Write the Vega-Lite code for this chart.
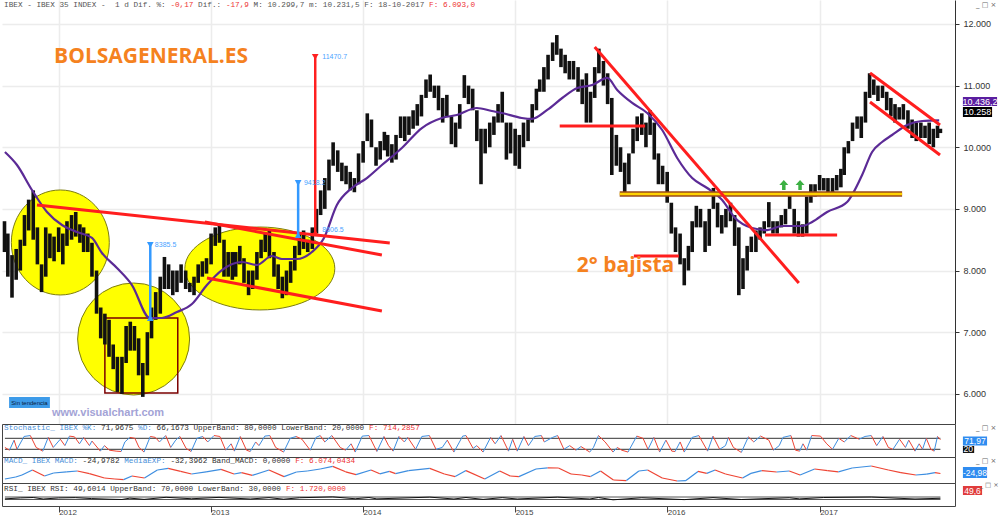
{
"$schema": "https://vega.github.io/schema/vega-lite/v6.json",
"padding": 0,
"spacing": 0,
"bounds": "flush",
"background": "white",
"config": {"view": {"stroke": null}, "point": {"opacity": 1}, "text": {"font": "Liberation Mono", "fontSize": 7.7, "align": "left", "baseline": "middle"}},
"resolve": {"scale": {"x": "independent"}, "axis": {"x": "independent"}},
"datasets": {
"px": [
{"d":"2011-08-24","p":8300,"p2":8800},{"d":"2011-09-01","p":7900,"p2":8600},{"d":"2011-09-11","p":7560,"p2":8250},{"d":"2011-09-21","p":7850,"p2":8350},
{"d":"2011-10-01","p":8000,"p2":8500},{"d":"2011-10-11","p":8400,"p2":8900},{"d":"2011-10-21","p":8650,"p2":9150},{"d":"2011-11-01","p":8500,"p2":9300},
{"d":"2011-11-11","p":8100,"p2":8700},{"d":"2011-11-21","p":7650,"p2":8100},{"d":"2011-12-01","p":7900,"p2":8700},{"d":"2011-12-11","p":8200,"p2":8600},
{"d":"2011-12-21","p":8150,"p2":8550},{"d":"2012-01-01","p":8300,"p2":8700},{"d":"2012-01-11","p":8100,"p2":8600},{"d":"2012-01-21","p":8400,"p2":8800},
{"d":"2012-02-01","p":8500,"p2":8900},{"d":"2012-02-11","p":8550,"p2":8950},{"d":"2012-02-21","p":8450,"p2":8750},{"d":"2012-03-01","p":8300,"p2":8700},
{"d":"2012-03-11","p":8300,"p2":8600},{"d":"2012-03-21","p":7900,"p2":8450},{"d":"2012-04-01","p":7300,"p2":8000},{"d":"2012-04-11","p":6900,"p2":7400},
{"d":"2012-04-21","p":6800,"p2":7300},{"d":"2012-05-01","p":6600,"p2":7200},{"d":"2012-05-11","p":6400,"p2":6800},{"d":"2012-05-21","p":6030,"p2":6600},
{"d":"2012-06-01","p":6000,"p2":6600},{"d":"2012-06-11","p":6500,"p2":7100},{"d":"2012-06-21","p":6700,"p2":7170},{"d":"2012-07-01","p":6700,"p2":7100},
{"d":"2012-07-11","p":6300,"p2":6900},{"d":"2012-07-21","p":5950,"p2":6500},{"d":"2012-08-01","p":6300,"p2":7000},{"d":"2012-08-11","p":6900,"p2":7400},
{"d":"2012-08-21","p":7200,"p2":7650},{"d":"2012-09-01","p":7300,"p2":7900},{"d":"2012-09-11","p":7700,"p2":8220},{"d":"2012-09-21","p":7700,"p2":8100},
{"d":"2012-10-01","p":7600,"p2":8000},{"d":"2012-10-11","p":7650,"p2":8000},{"d":"2012-10-21","p":7800,"p2":8100},{"d":"2012-11-01","p":7700,"p2":8000},
{"d":"2012-11-11","p":7650,"p2":7800},{"d":"2012-11-21","p":7600,"p2":7900},{"d":"2012-12-01","p":7800,"p2":8100},{"d":"2012-12-11","p":7900,"p2":8150},
{"d":"2012-12-21","p":7950,"p2":8200},{"d":"2013-01-01","p":8100,"p2":8600},{"d":"2013-01-11","p":8400,"p2":8700},{"d":"2013-01-21","p":8450,"p2":8750},
{"d":"2013-02-01","p":7900,"p2":8500},{"d":"2013-02-11","p":7900,"p2":8300},{"d":"2013-02-21","p":7850,"p2":8300},{"d":"2013-03-01","p":7900,"p2":8300},
{"d":"2013-03-11","p":8100,"p2":8400},{"d":"2013-03-21","p":7800,"p2":8200},{"d":"2013-04-01","p":7600,"p2":8000},{"d":"2013-04-11","p":7700,"p2":8000},
{"d":"2013-04-21","p":7850,"p2":8300},{"d":"2013-05-01","p":8200,"p2":8500},{"d":"2013-05-11","p":8300,"p2":8600},{"d":"2013-05-21","p":8200,"p2":8650},
{"d":"2013-06-01","p":7900,"p2":8300},{"d":"2013-06-11","p":7700,"p2":8100},{"d":"2013-06-21","p":7550,"p2":7900},{"d":"2013-07-01","p":7600,"p2":8000},
{"d":"2013-07-11","p":7800,"p2":8150},{"d":"2013-07-21","p":8000,"p2":8400},{"d":"2013-08-01","p":8250,"p2":8600},{"d":"2013-08-11","p":8350,"p2":8650},
{"d":"2013-08-21","p":8300,"p2":8500},{"d":"2013-09-01","p":8350,"p2":8700},{"d":"2013-09-11","p":8600,"p2":9000},{"d":"2013-09-21","p":8900,"p2":9300},
{"d":"2013-10-01","p":9000,"p2":9500},{"d":"2013-10-11","p":9300,"p2":9800},{"d":"2013-10-21","p":9700,"p2":10080},{"d":"2013-11-01","p":9600,"p2":9950},
{"d":"2013-11-11","p":9450,"p2":9750},{"d":"2013-11-21","p":9400,"p2":9700},{"d":"2013-12-01","p":9300,"p2":9600},{"d":"2013-12-11","p":9270,"p2":9500},
{"d":"2013-12-21","p":9400,"p2":9900},{"d":"2014-01-01","p":9750,"p2":10100},{"d":"2014-01-11","p":10100,"p2":10550},{"d":"2014-01-21","p":10000,"p2":10450},
{"d":"2014-02-01","p":9700,"p2":10000},{"d":"2014-02-11","p":9800,"p2":10100},{"d":"2014-02-21","p":9950,"p2":10250},{"d":"2014-03-01","p":9850,"p2":10200},
{"d":"2014-03-11","p":9750,"p2":10050},{"d":"2014-03-21","p":9800,"p2":10200},{"d":"2014-04-01","p":10150,"p2":10500},{"d":"2014-04-11","p":10100,"p2":10500},
{"d":"2014-04-21","p":10200,"p2":10500},{"d":"2014-05-01","p":10300,"p2":10600},{"d":"2014-05-11","p":10350,"p2":10700},{"d":"2014-05-21","p":10500,"p2":10850},
{"d":"2014-06-01","p":10800,"p2":11100},{"d":"2014-06-11","p":10900,"p2":11180},{"d":"2014-06-21","p":10800,"p2":11000},{"d":"2014-07-01","p":10600,"p2":11000},
{"d":"2014-07-11","p":10400,"p2":10800},{"d":"2014-07-21","p":10500,"p2":10850},{"d":"2014-08-01","p":10050,"p2":10500},{"d":"2014-08-11","p":10000,"p2":10400},
{"d":"2014-08-21","p":10300,"p2":10700},{"d":"2014-09-01","p":10800,"p2":11170},{"d":"2014-09-11","p":10700,"p2":11000},{"d":"2014-09-21","p":10600,"p2":10950},
{"d":"2014-10-01","p":10100,"p2":10600},{"d":"2014-10-11","p":9400,"p2":10300},{"d":"2014-10-21","p":9900,"p2":10300},{"d":"2014-11-01","p":10000,"p2":10400},
{"d":"2014-11-11","p":10200,"p2":10500},{"d":"2014-11-21","p":10400,"p2":10700},{"d":"2014-12-01","p":10400,"p2":10900},{"d":"2014-12-11","p":9800,"p2":10400},
{"d":"2014-12-21","p":9900,"p2":10400},{"d":"2015-01-01","p":9700,"p2":10300},{"d":"2015-01-11","p":9650,"p2":10200},{"d":"2015-01-21","p":10000,"p2":10400},
{"d":"2015-02-01","p":10100,"p2":10450},{"d":"2015-02-11","p":10400,"p2":10700},{"d":"2015-02-21","p":10600,"p2":10950},{"d":"2015-03-01","p":10900,"p2":11100},
{"d":"2015-03-11","p":10900,"p2":11300},{"d":"2015-03-21","p":11100,"p2":11500},{"d":"2015-04-01","p":11400,"p2":11700},{"d":"2015-04-11","p":11500,"p2":11820},
{"d":"2015-04-21","p":11300,"p2":11600},{"d":"2015-05-01","p":11200,"p2":11500},{"d":"2015-05-11","p":11100,"p2":11400},{"d":"2015-05-21","p":11100,"p2":11400},
{"d":"2015-06-01","p":10900,"p2":11300},{"d":"2015-06-11","p":10700,"p2":11100},{"d":"2015-06-21","p":10400,"p2":11200},{"d":"2015-07-01","p":10400,"p2":10900},
{"d":"2015-07-11","p":10800,"p2":11300},{"d":"2015-07-21","p":11200,"p2":11600},{"d":"2015-08-01","p":11000,"p2":11400},{"d":"2015-08-11","p":10700,"p2":11200},
{"d":"2015-08-21","p":9550,"p2":10800},{"d":"2015-09-01","p":9700,"p2":10200},{"d":"2015-09-11","p":9600,"p2":10000},{"d":"2015-09-21","p":9270,"p2":9750},
{"d":"2015-10-01","p":9400,"p2":9900},{"d":"2015-10-11","p":9900,"p2":10300},{"d":"2015-10-21","p":10100,"p2":10500},{"d":"2015-11-01","p":10200,"p2":10550},
{"d":"2015-11-11","p":10000,"p2":10400},{"d":"2015-11-21","p":10200,"p2":10600},{"d":"2015-12-01","p":9800,"p2":10400},{"d":"2015-12-11","p":9400,"p2":9900},
{"d":"2015-12-21","p":9400,"p2":9700},{"d":"2016-01-01","p":9100,"p2":9600},{"d":"2016-01-11","p":8600,"p2":9100},{"d":"2016-01-21","p":8300,"p2":8700},
{"d":"2016-02-01","p":8100,"p2":8600},{"d":"2016-02-11","p":7760,"p2":8200},{"d":"2016-02-21","p":8000,"p2":8400},{"d":"2016-03-01","p":8300,"p2":8800},
{"d":"2016-03-11","p":8700,"p2":9050},{"d":"2016-03-21","p":8700,"p2":9000},{"d":"2016-04-01","p":8300,"p2":8800},{"d":"2016-04-11","p":8400,"p2":9000},
{"d":"2016-04-21","p":9000,"p2":9340},{"d":"2016-05-01","p":8700,"p2":9100},{"d":"2016-05-11","p":8600,"p2":8900},{"d":"2016-05-21","p":8700,"p2":9000},
{"d":"2016-06-01","p":8800,"p2":9100},{"d":"2016-06-11","p":8400,"p2":8900},{"d":"2016-06-21","p":7600,"p2":8700},{"d":"2016-07-01","p":7700,"p2":8200},
{"d":"2016-07-11","p":8000,"p2":8400},{"d":"2016-07-21","p":8300,"p2":8550},{"d":"2016-08-01","p":8300,"p2":8650},{"d":"2016-08-11","p":8500,"p2":8700},
{"d":"2016-08-21","p":8600,"p2":8800},{"d":"2016-09-01","p":8700,"p2":9110},{"d":"2016-09-11","p":8600,"p2":8800},{"d":"2016-09-21","p":8600,"p2":8800},
{"d":"2016-10-01","p":8700,"p2":8900},{"d":"2016-10-11","p":8750,"p2":9000},{"d":"2016-10-21","p":9000,"p2":9225},{"d":"2016-11-01","p":8600,"p2":9000},
{"d":"2016-11-11","p":8550,"p2":8800},{"d":"2016-11-21","p":8550,"p2":8750},{"d":"2016-12-01","p":8600,"p2":9200},{"d":"2016-12-11","p":9100,"p2":9400},
{"d":"2016-12-21","p":9200,"p2":9400},{"d":"2017-01-01","p":9300,"p2":9550},{"d":"2017-01-11","p":9300,"p2":9500},{"d":"2017-01-21","p":9250,"p2":9500},
{"d":"2017-02-01","p":9250,"p2":9500},{"d":"2017-02-11","p":9300,"p2":9550},{"d":"2017-02-21","p":9350,"p2":9650},{"d":"2017-03-01","p":9550,"p2":10000},
{"d":"2017-03-11","p":9900,"p2":10100},{"d":"2017-03-21","p":10100,"p2":10400},{"d":"2017-04-01","p":10300,"p2":10500},{"d":"2017-04-11","p":10150,"p2":10500},
{"d":"2017-04-21","p":10400,"p2":10900},{"d":"2017-05-01","p":10800,"p2":11200},{"d":"2017-05-11","p":10850,"p2":11100},{"d":"2017-05-21","p":10750,"p2":11000},
{"d":"2017-06-01","p":10800,"p2":11000},{"d":"2017-06-11","p":10600,"p2":10900},{"d":"2017-06-21","p":10500,"p2":10800},{"d":"2017-07-01","p":10400,"p2":10700},
{"d":"2017-07-11","p":10450,"p2":10650},{"d":"2017-07-21","p":10450,"p2":10700},{"d":"2017-08-01","p":10300,"p2":10600},{"d":"2017-08-11","p":10150,"p2":10450},
{"d":"2017-08-21","p":10100,"p2":10400},{"d":"2017-09-01","p":10150,"p2":10400},{"d":"2017-09-11","p":10150,"p2":10350},{"d":"2017-09-21","p":10050,"p2":10400},
{"d":"2017-10-01","p":10000,"p2":10300},{"d":"2017-10-11","p":10150,"p2":10350},{"d":"2017-10-18","p":10230,"p2":10300}
],
"ma": [
{"d":"2011-08-25","p":9923},{"d":"2011-09-23","p":9712},{"d":"2011-10-29","p":9306},{"d":"2011-12-04","p":8950},{"d":"2012-01-09","p":8739},
{"d":"2012-02-14","p":8625},{"d":"2012-03-21","p":8528},{"d":"2012-04-14","p":8284},{"d":"2012-05-20","p":8041},{"d":"2012-06-25","p":7765},
{"d":"2012-08-07","p":7230},{"d":"2012-09-05","p":7230},{"d":"2012-10-11","p":7327},{"d":"2012-11-16","p":7457},{"d":"2012-12-22","p":7765},
{"d":"2013-01-27","p":8008},{"d":"2013-03-16","p":8138},{"d":"2013-04-21","p":8090},{"d":"2013-05-27","p":8236},{"d":"2013-06-20","p":8187},
{"d":"2013-07-26","p":8187},{"d":"2013-08-31","p":8300},{"d":"2013-09-29","p":8528},{"d":"2013-10-30","p":9063},{"d":"2013-12-05","p":9339},
{"d":"2014-01-10","p":9501},{"d":"2014-02-15","p":9712},{"d":"2014-04-04","p":9988},{"d":"2014-05-22","p":10312},{"d":"2014-07-09","p":10475},
{"d":"2014-08-14","p":10523},{"d":"2014-10-01","p":10637},{"d":"2014-11-06","p":10588},{"d":"2014-11-30","p":10556},{"d":"2015-01-17","p":10475},
{"d":"2015-02-10","p":10459},{"d":"2015-03-19","p":10605},{"d":"2015-04-24","p":10799},{"d":"2015-05-30","p":10962},{"d":"2015-07-05","p":11010},
{"d":"2015-08-10","p":11124},{"d":"2015-09-03","p":10929},{"d":"2015-10-09","p":10718},{"d":"2015-11-14","p":10556},{"d":"2015-12-20","p":10280},
{"d":"2016-01-25","p":9826},{"d":"2016-03-01","p":9501},{"d":"2016-04-06","p":9339},{"d":"2016-05-12","p":9144},{"d":"2016-06-12","p":8852},
{"d":"2016-07-23","p":8690},{"d":"2016-08-28","p":8657},{"d":"2016-10-03","p":8722},{"d":"2016-11-20","p":8722},{"d":"2016-12-14","p":8787},
{"d":"2017-01-19","p":8950},{"d":"2017-03-08","p":9112},{"d":"2017-04-13","p":9550},{"d":"2017-05-07","p":9923},{"d":"2017-05-31","p":10085},
{"d":"2017-06-24","p":10199},{"d":"2017-07-30","p":10361},{"d":"2017-09-04","p":10426},{"d":"2017-10-15","p":10436}
],
"st": [
{"d":"2011-08-25","v":30},{"d":"2011-09-05","v":15},{"d":"2011-09-16","v":70},{"d":"2011-09-23","v":20},{"d":"2011-10-10","v":90},{"d":"2011-10-25","v":95},
{"d":"2011-11-08","v":30},{"d":"2011-11-24","v":10},{"d":"2011-12-07","v":85},{"d":"2011-12-19","v":30},{"d":"2012-01-05","v":75},{"d":"2012-01-16","v":40},
{"d":"2012-01-27","v":92},{"d":"2012-02-08","v":88},{"d":"2012-02-20","v":50},{"d":"2012-03-01","v":85},{"d":"2012-03-15","v":40},{"d":"2012-03-21","v":65},
{"d":"2012-04-10","v":10},{"d":"2012-04-20","v":40},{"d":"2012-05-02","v":15},{"d":"2012-05-18","v":10},{"d":"2012-05-30","v":8},{"d":"2012-06-08","v":60},
{"d":"2012-06-20","v":85},{"d":"2012-07-02","v":80},{"d":"2012-07-12","v":30},{"d":"2012-07-24","v":5},{"d":"2012-08-08","v":90},{"d":"2012-08-20","v":85},
{"d":"2012-08-30","v":60},{"d":"2012-09-14","v":95},{"d":"2012-09-26","v":30},{"d":"2012-10-08","v":70},{"d":"2012-10-18","v":90},{"d":"2012-11-02","v":25},
{"d":"2012-11-14","v":8},{"d":"2012-11-28","v":80},{"d":"2012-12-12","v":90},{"d":"2012-12-24","v":60},{"d":"2013-01-08","v":95},{"d":"2013-01-22","v":90},
{"d":"2013-02-05","v":15},{"d":"2013-02-18","v":50},{"d":"2013-02-26","v":10},{"d":"2013-03-12","v":90},{"d":"2013-03-27","v":15},{"d":"2013-04-05","v":8},
{"d":"2013-04-18","v":60},{"d":"2013-04-26","v":40},{"d":"2013-05-10","v":92},{"d":"2013-05-22","v":95},{"d":"2013-06-05","v":30},{"d":"2013-06-24","v":5},
{"d":"2013-07-10","v":80},{"d":"2013-07-24","v":90},{"d":"2013-08-07","v":75},{"d":"2013-08-27","v":15},{"d":"2013-09-10","v":85},{"d":"2013-09-20","v":95},
{"d":"2013-10-01","v":60},{"d":"2013-10-18","v":95},{"d":"2013-11-07","v":30},{"d":"2013-11-20","v":15},{"d":"2013-12-03","v":50},{"d":"2013-12-13","v":5},
{"d":"2013-12-30","v":92},{"d":"2014-01-15","v":95},{"d":"2014-02-03","v":8},{"d":"2014-02-20","v":90},{"d":"2014-03-03","v":40},{"d":"2014-03-14","v":10},
{"d":"2014-03-28","v":90},{"d":"2014-04-10","v":60},{"d":"2014-04-18","v":85},{"d":"2014-05-07","v":20},{"d":"2014-05-22","v":90},{"d":"2014-06-09","v":95},
{"d":"2014-06-25","v":20},{"d":"2014-07-10","v":30},{"d":"2014-07-22","v":70},{"d":"2014-08-07","v":5},{"d":"2014-08-28","v":92},{"d":"2014-09-05","v":95},
{"d":"2014-09-22","v":25},{"d":"2014-10-01","v":40},{"d":"2014-10-16","v":5},{"d":"2014-11-03","v":85},{"d":"2014-11-14","v":50},{"d":"2014-11-28","v":95},
{"d":"2014-12-16","v":10},{"d":"2014-12-26","v":75},{"d":"2015-01-06","v":10},{"d":"2015-01-22","v":90},{"d":"2015-02-02","v":40},{"d":"2015-02-17","v":90},
{"d":"2015-03-05","v":95},{"d":"2015-03-12","v":60},{"d":"2015-04-01","v":85},{"d":"2015-04-13","v":95},{"d":"2015-04-28","v":20},{"d":"2015-05-12","v":40},
{"d":"2015-05-27","v":15},{"d":"2015-06-08","v":35},{"d":"2015-06-29","v":5},{"d":"2015-07-08","v":30},{"d":"2015-07-20","v":95},{"d":"2015-08-05","v":60},
{"d":"2015-08-24","v":5},{"d":"2015-09-03","v":30},{"d":"2015-09-14","v":15},{"d":"2015-09-29","v":5},{"d":"2015-10-20","v":92},{"d":"2015-11-04","v":80},
{"d":"2015-11-16","v":20},{"d":"2015-11-30","v":85},{"d":"2015-12-14","v":5},{"d":"2015-12-29","v":70},{"d":"2016-01-12","v":10},{"d":"2016-01-20","v":8},
{"d":"2016-02-01","v":60},{"d":"2016-02-11","v":5},{"d":"2016-03-01","v":85},{"d":"2016-03-17","v":95},{"d":"2016-04-07","v":10},{"d":"2016-04-20","v":92},
{"d":"2016-05-06","v":20},{"d":"2016-05-20","v":40},{"d":"2016-05-27","v":85},{"d":"2016-06-08","v":30},{"d":"2016-06-27","v":3},{"d":"2016-07-14","v":88},
{"d":"2016-07-27","v":60},{"d":"2016-08-12","v":92},{"d":"2016-09-01","v":70},{"d":"2016-09-12","v":15},{"d":"2016-09-26","v":40},{"d":"2016-10-05","v":85},
{"d":"2016-10-24","v":95},{"d":"2016-11-04","v":15},{"d":"2016-11-14","v":10},{"d":"2016-11-22","v":50},{"d":"2016-12-01","v":15},{"d":"2016-12-13","v":95},
{"d":"2017-01-03","v":92},{"d":"2017-01-18","v":50},{"d":"2017-02-01","v":20},{"d":"2017-02-16","v":80},{"d":"2017-03-01","v":60},{"d":"2017-03-17","v":95},
{"d":"2017-04-06","v":75},{"d":"2017-04-20","v":90},{"d":"2017-05-05","v":95},{"d":"2017-05-18","v":40},{"d":"2017-06-02","v":90},{"d":"2017-06-15","v":30},
{"d":"2017-06-26","v":20},{"d":"2017-07-12","v":75},{"d":"2017-07-26","v":30},{"d":"2017-08-03","v":70},{"d":"2017-08-18","v":10},{"d":"2017-08-28","v":50},
{"d":"2017-09-05","v":20},{"d":"2017-09-14","v":80},{"d":"2017-09-25","v":20},{"d":"2017-10-03","v":10},{"d":"2017-10-11","v":90},{"d":"2017-10-18","v":72}
],
"mc": [
{"d":"2011-08-25","v":-300},{"d":"2011-09-20","v":-200},{"d":"2011-10-05","v":-100},{"d":"2011-10-30","v":150},{"d":"2011-11-28","v":-150},{"d":"2011-12-20","v":0},
{"d":"2012-01-20","v":60},{"d":"2012-02-15","v":100},{"d":"2012-03-15","v":-30},{"d":"2012-04-20","v":-250},{"d":"2012-05-15","v":-300},{"d":"2012-06-05","v":-330},
{"d":"2012-06-25","v":-150},{"d":"2012-07-25","v":-250},{"d":"2012-08-25","v":150},{"d":"2012-09-20","v":230},{"d":"2012-10-20","v":80},{"d":"2012-11-15","v":-50},
{"d":"2012-12-20","v":60},{"d":"2013-01-25","v":180},{"d":"2013-02-25","v":-50},{"d":"2013-03-15","v":20},{"d":"2013-04-10","v":-120},{"d":"2013-05-20","v":150},
{"d":"2013-06-25","v":-180},{"d":"2013-07-25","v":50},{"d":"2013-08-20","v":100},{"d":"2013-09-20","v":200},{"d":"2013-10-20","v":330},{"d":"2013-11-20","v":60},
{"d":"2013-12-15","v":-80},{"d":"2014-01-20","v":150},{"d":"2014-02-10","v":-40},{"d":"2014-03-05","v":80},{"d":"2014-03-20","v":-30},{"d":"2014-04-20","v":120},
{"d":"2014-06-10","v":230},{"d":"2014-07-15","v":-50},{"d":"2014-08-10","v":-180},{"d":"2014-09-05","v":120},{"d":"2014-10-20","v":-300},{"d":"2014-11-25","v":100},
{"d":"2014-12-20","v":-150},{"d":"2015-01-10","v":-180},{"d":"2015-02-20","v":200},{"d":"2015-03-20","v":260},{"d":"2015-04-15","v":250},{"d":"2015-05-15","v":-50},
{"d":"2015-06-10","v":-100},{"d":"2015-07-01","v":-180},{"d":"2015-07-25","v":100},{"d":"2015-08-25","v":-350},{"d":"2015-09-25","v":-380},{"d":"2015-10-25","v":100},
{"d":"2015-11-15","v":150},{"d":"2015-12-20","v":-250},{"d":"2016-01-25","v":-400},{"d":"2016-02-15","v":-380},{"d":"2016-03-15","v":80},{"d":"2016-04-05","v":-20},
{"d":"2016-04-25","v":150},{"d":"2016-05-20","v":-50},{"d":"2016-06-30","v":-250},{"d":"2016-07-20","v":-20},{"d":"2016-08-15","v":120},{"d":"2016-09-20","v":50},
{"d":"2016-10-20","v":100},{"d":"2016-11-15","v":-100},{"d":"2016-12-20","v":200},{"d":"2017-01-20","v":120},{"d":"2017-02-15","v":60},{"d":"2017-03-20","v":250},
{"d":"2017-05-05","v":350},{"d":"2017-06-15","v":150},{"d":"2017-07-15","v":20},{"d":"2017-08-20","v":-100},{"d":"2017-09-15","v":-60},{"d":"2017-10-05","v":20},
{"d":"2017-10-18","v":-25}
],
"rs": [
{"d":"2011-08-25","v":40},{"d":"2011-10-01","v":55},{"d":"2011-11-01","v":62},{"d":"2011-11-25","v":38},{"d":"2012-01-01","v":55},{"d":"2012-02-10","v":60},
{"d":"2012-03-20","v":45},{"d":"2012-05-01","v":35},{"d":"2012-06-01","v":30},{"d":"2012-06-20","v":52},{"d":"2012-07-24","v":32},{"d":"2012-09-15","v":65},
{"d":"2012-11-15","v":42},{"d":"2013-01-20","v":64},{"d":"2013-04-05","v":38},{"d":"2013-05-20","v":60},{"d":"2013-06-24","v":35},{"d":"2013-08-01","v":58},
{"d":"2013-10-20","v":72},{"d":"2013-12-13","v":42},{"d":"2014-01-15","v":62},{"d":"2014-02-03","v":40},{"d":"2014-06-10","v":68},{"d":"2014-08-07","v":38},
{"d":"2014-09-05","v":62},{"d":"2014-10-16","v":32},{"d":"2014-12-01","v":60},{"d":"2015-01-06","v":38},{"d":"2015-04-13","v":68},{"d":"2015-06-29","v":38},
{"d":"2015-07-20","v":62},{"d":"2015-08-24","v":25},{"d":"2015-11-01","v":58},{"d":"2016-02-11","v":28},{"d":"2016-04-20","v":60},{"d":"2016-06-27","v":30},
{"d":"2016-10-20","v":58},{"d":"2016-11-14","v":40},{"d":"2017-01-10","v":62},{"d":"2017-05-05","v":70},{"d":"2017-08-18","v":38},{"d":"2017-10-18","v":49.6}
]
},
"vconcat": [
{
"width": 953, "height": 424,
"encoding": {
 "x": {"field": "d", "type": "temporal", "scale": {"domain": [{"year": 2011, "month": 8, "date": 18, "utc": true}, {"year": 2017, "month": 11, "date": 22, "utc": true}]}, "axis": {"grid": true, "gridColor": "#ececec", "gridWidth": 1.5, "labels": false, "ticks": false, "domain": false, "title": null, "tickCount": {"interval": "year", "step": 1}}},
 "y": {"field": "p", "type": "quantitative", "scale": {"domain": [5510, 12389], "nice": false, "zero": false}, "axis": {"orient": "right", "values": [6000, 7000, 8000, 9000, 10000, 11000, 12000], "labelExpr": "replace(format(datum.value, ','), ',', '.')", "grid": true, "gridColor": "#ececec", "gridWidth": 1.5, "title": null, "tickSize": 4, "labelPadding": 4, "labelFont": "Liberation Sans", "labelFontSize": 9, "labelColor": "#333", "domainColor": "#333", "tickColor": "#333"}}
},
"layer": [
 {"data": {"values": [{"d": "2012-01-05", "p": 8455}]}, "mark": {"type": "point", "shape": "M -0.933 0 C -0.933 -0.552 -0.515 -1 0 -1 C 0.515 -1 0.933 -0.552 0.933 0 C 0.933 0.552 0.515 1 0 1 C -0.515 1 -0.933 0.552 -0.933 0 Z", "size": 11025, "filled": true, "fill": "#ffff00", "stroke": "#7d7d10", "strokeWidth": 1, "opacity": 1}},
 {"data": {"values": [{"d": "2012-06-29", "p": 6889}]}, "mark": {"type": "point", "shape": "circle", "size": 12544, "filled": true, "fill": "#ffff00", "stroke": "#7d7d10", "strokeWidth": 1, "opacity": 1}},
 {"data": {"values": [{"d": "2013-04-28", "p": 8033}]}, "mark": {"type": "point", "shape": "M -1 0 C -1 -0.305 -0.552 -0.553 0 -0.553 C 0.552 -0.553 1 -0.305 1 0 C 1 0.305 0.552 0.553 0 0.553 C -0.552 0.553 -1 0.305 -1 0 Z", "size": 22500, "filled": true, "fill": "#ffff00", "stroke": "#7d7d10", "strokeWidth": 1, "opacity": 1}},
 {"data": {"values": [{"d": "2012-04-21", "d2": "2012-10-13", "p": 6013, "p2": 7230}]}, "mark": {"type": "rect", "fillOpacity": 0, "stroke": "#7b0000", "strokeWidth": 1.5}, "encoding": {"x2": {"field": "d2"}, "y2": {"field": "p2"}}},
 {"data": {"name": "px"}, "mark": {"type": "rule", "color": "#111111", "strokeWidth": 3.6}, "encoding": {"y2": {"field": "p2"}}},
 {"data": {"name": "ma"}, "mark": {"type": "line", "color": "#5b2a96", "strokeWidth": 2.2, "interpolate": "monotone"}},
 {"data": {"values": [{"d": "2015-09-09", "d2": "2017-07-18", "p": 9242}]}, "mark": {"type": "rule", "color": "#9a4a1a", "strokeWidth": 5.5}, "encoding": {"x2": {"field": "d2"}}},
 {"data": {"values": [{"d": "2015-09-09", "d2": "2017-07-18", "p": 9242}]}, "mark": {"type": "rule", "color": "#ffd200", "strokeWidth": 2.5}, "encoding": {"x2": {"field": "d2"}}},
 {"data": {"values": [
   {"d": "2011-11-10", "p": 9063, "d2": "2014-03-06", "p2": 8447},
   {"d": "2012-12-17", "p": 8787, "d2": "2014-02-15", "p2": 8252},
   {"d": "2012-12-22", "p": 7879, "d2": "2014-02-15", "p2": 7343},
   {"d": "2015-07-11", "p": 11627, "d2": "2016-11-12", "p2": 7797},
   {"d": "2015-04-18", "p": 10345, "d2": "2015-11-09", "p2": 10345},
   {"d": "2015-10-13", "p": 8236, "d2": "2016-01-29", "p2": 8236},
   {"d": "2016-08-23", "p": 8576, "d2": "2017-02-12", "p2": 8576},
   {"d": "2017-05-02", "p": 11205, "d2": "2017-10-17", "p2": 10361},
   {"d": "2017-05-02", "p": 10734, "d2": "2017-10-17", "p2": 9874}
  ]}, "mark": {"type": "rule", "color": "#ff1e1e", "strokeWidth": 3}, "encoding": {"x2": {"field": "d2"}, "y2": {"field": "p2"}}},
 {"data": {"values": [{"d": "2012-08-08", "p": 7230, "p2": 8414}, {"d": "2013-07-29", "p": 8576, "p2": 9420}]}, "mark": {"type": "rule", "color": "#3399ff", "strokeWidth": 2.5}, "encoding": {"y2": {"field": "p2"}}},
 {"data": {"values": [{"d": "2013-09-08", "p": 8609, "p2": 11465}]}, "mark": {"type": "rule", "color": "#ff2020", "strokeWidth": 2.5}, "encoding": {"y2": {"field": "p2"}}},
 {"data": {"values": [{"d": "2012-08-08", "p": 8414}, {"d": "2013-07-29", "p": 9420}]}, "mark": {"type": "point", "shape": "triangle-down", "size": 45, "filled": true, "color": "#3399ff", "opacity": 1}},
 {"data": {"values": [{"d": "2012-08-08", "p": 7230}, {"d": "2013-07-29", "p": 8576}]}, "mark": {"type": "point", "shape": "triangle-up", "size": 45, "filled": true, "color": "#3399ff", "opacity": 1}},
 {"data": {"values": [{"d": "2013-09-08", "p": 11465}]}, "mark": {"type": "point", "shape": "triangle-down", "size": 45, "filled": true, "color": "#ff2020", "opacity": 1}},
 {"data": {"values": [{"d": "2013-09-08", "p": 8609}]}, "mark": {"type": "point", "shape": "triangle-up", "size": 60, "filled": true, "color": "#ff2020", "opacity": 1}},
 {"data": {"values": [{"d": "2012-08-19", "p": 8414, "t": "8385.5"}, {"d": "2013-08-12", "p": 9420, "t": "9418.2"}, {"d": "2013-09-25", "p": 11465, "t": "11470.7"}, {"d": "2013-09-25", "p": 8660, "t": "8606.5"}]}, "mark": {"type": "text", "align": "left", "baseline": "middle", "font": "Liberation Sans", "fontSize": 7, "color": "#4aa3ff"}, "encoding": {"text": {"field": "t"}}},
 {"data": {"values": [{"d": "2016-10-07", "p": 9388}, {"d": "2016-11-15", "p": 9388}]}, "mark": {"type": "point", "shape": "M -0.35 1 L 0.35 1 L 0.35 0 L 0.9 0 L 0 -1 L -0.9 0 L -0.35 0 Z", "size": 100, "filled": true, "color": "#3cb043", "opacity": 1}},
 {"data": {"values": [{"d": "2011-12-21", "p": 11465, "t": "BOLSAGENERAL.ES"}, {"d": "2015-05-29", "p": 8073, "t": "2° bajista"}]}, "mark": {"type": "text", "align": "left", "baseline": "middle", "font": "Open Sans", "fontWeight": "bold", "fontSize": 21, "color": "#f5821f"}, "encoding": {"text": {"field": "t"}}},
 {"data": {"values": [{"d": "2011-12-16", "p": 5688, "t": "www.visualchart.com"}]}, "mark": {"type": "text", "align": "left", "baseline": "middle", "font": "Liberation Sans", "fontWeight": "bold", "fontSize": 11, "color": "#a3a3d6"}, "encoding": {"text": {"field": "t"}}},
 {"data": {"values": [{"d": "2011-09-04", "d2": "2011-12-11", "p": 5769, "p2": 5948}]}, "mark": {"type": "rect", "color": "#3d9be9"}, "encoding": {"x2": {"field": "d2"}, "y2": {"field": "p2"}}},
 {"data": {"values": [{"d": "2011-10-23", "p": 5858, "t": "Sin tendencia"}]}, "mark": {"type": "text", "align": "center", "baseline": "middle", "font": "Liberation Sans", "fontSize": 6, "color": "#0a1a3a"}, "encoding": {"text": {"field": "t"}}},
 {"data": {"values": [{"d": "2017-12-11", "d2": "2018-03-03", "p": 10669, "p2": 10815}]}, "mark": {"type": "rect", "color": "#5b1fa0"}, "encoding": {"x2": {"field": "d2"}, "y2": {"field": "p2"}}},
 {"data": {"values": [{"d": "2017-12-11", "d2": "2018-02-19", "p": 10491, "p2": 10653}]}, "mark": {"type": "rect", "color": "#000000"}, "encoding": {"x2": {"field": "d2"}, "y2": {"field": "p2"}}},
 {"data": {"values": [{"d": "2018-01-21", "p": 10742, "t": "10.436,2"}, {"d": "2018-01-15", "p": 10572, "t": "10.258"}]}, "mark": {"type": "text", "align": "center", "baseline": "middle", "font": "Liberation Sans", "fontSize": 9, "color": "#ffffff"}, "encoding": {"text": {"field": "t"}}},
 {"data": {"values": [{"d": "2011-08-23", "p": 12308}]}, "layer": [
   {"mark": {"type": "text", "text": "IBEX - IBEX 35 INDEX -", "dx": 0, "color": "#555555"}},
   {"mark": {"type": "text", "text": "1 d Dif. %:", "dx": 110.9, "color": "#555555"}},
   {"mark": {"type": "text", "text": "-0,17", "dx": 166.3, "color": "#ee3333"}},
   {"mark": {"type": "text", "text": "Dif.:", "dx": 194.0, "color": "#555555"}},
   {"mark": {"type": "text", "text": "-17,9", "dx": 221.8, "color": "#ee3333"}},
   {"mark": {"type": "text", "text": "M: 10.299,7 m: 10.231,5 F: 18-10-2017", "dx": 249.5, "color": "#555555"}},
   {"mark": {"type": "text", "text": "F: 6.093,0", "dx": 425.0, "color": "#ee3333"}}
 ]},
 {"data": {"values": [{"d": "2018-02-05", "p": 12308, "t": "_ □ ×"}]}, "mark": {"type": "text", "align": "center", "baseline": "middle", "font": "DejaVu Sans", "fontSize": 7, "color": "#666666"}, "encoding": {"text": {"field": "t"}}}
]
},
{
"width": 953, "height": 33,
"view": {"stroke": "#444444"},
"encoding": {
 "x": {"field": "d", "type": "temporal", "scale": {"domain": [{"year": 2011, "month": 8, "date": 18, "utc": true}, {"year": 2017, "month": 11, "date": 22, "utc": true}]}, "axis": null},
 "y": {"field": "v", "type": "quantitative", "scale": {"domain": [-22, 158], "nice": false, "zero": false}, "axis": null}
},
"layer": [
 {"data": {"values": [{"d": "2011-08-25", "d2": "2017-10-18", "v": 80}, {"d": "2011-08-25", "d2": "2017-10-18", "v": 20}]}, "mark": {"type": "rule", "color": "#333333", "strokeWidth": 1}, "encoding": {"x2": {"field": "d2"}}},
 {"data": {"name": "st", "format": {"parse": {"d": "date"}}}, "transform": [{"window": [{"op": "lead", "field": "v", "as": "v2"}, {"op": "lead", "field": "d", "as": "d2"}], "sort": [{"field": "d", "order": "ascending"}]}, {"filter": "isValid(datum.v2)"}], "mark": {"type": "rule", "strokeWidth": 1}, "encoding": {"x2": {"field": "d2"}, "y2": {"field": "v2"}, "color": {"condition": {"test": "datum.v2 >= datum.v", "value": "#3d8ee0"}, "value": "#ee4433"}}},
 {"data": {"values": [{"d": "2011-08-23", "v": 136}]}, "layer": [
   {"mark": {"type": "text", "text": "Stochastic_ IBEX %K:", "dx": 0, "color": "#4a8fd8"}},
   {"mark": {"type": "text", "text": "71,9675", "dx": 97.0, "color": "#333333"}},
   {"mark": {"type": "text", "text": "%D:", "dx": 134.0, "color": "#4a8fd8"}},
   {"mark": {"type": "text", "text": "66,1673 UpperBand: 80,0000 LowerBand: 20,0000", "dx": 152.5, "color": "#333333"}},
   {"mark": {"type": "text", "text": "F: 714,2857", "dx": 365.0, "color": "#ee3333"}}
 ]},
 {"data": {"values": [{"d": "2017-12-11", "d2": "2018-02-07", "v": 40.7, "v2": 89.8}]}, "mark": {"type": "rect", "color": "#2f8cf0"}, "encoding": {"x2": {"field": "d2"}, "y2": {"field": "v2"}}},
 {"data": {"values": [{"d": "2017-12-11", "d2": "2018-01-07", "v": 0, "v2": 38}]}, "mark": {"type": "rect", "color": "#111111"}, "encoding": {"x2": {"field": "d2"}, "y2": {"field": "v2"}}},
 {"data": {"values": [{"d": "2018-01-09", "v": 65, "t": "71,97"}, {"d": "2017-12-24", "v": 19, "t": "20"}]}, "mark": {"type": "text", "align": "center", "baseline": "middle", "font": "Liberation Sans", "fontSize": 8.5, "color": "#ffffff"}, "encoding": {"text": {"field": "t"}}},
 {"data": {"values": [{"d": "2018-02-05", "v": 136, "t": "_ □ ×"}]}, "mark": {"type": "text", "align": "center", "baseline": "middle", "font": "DejaVu Sans", "fontSize": 7, "color": "#666666"}, "encoding": {"text": {"field": "t"}}}
]
},
{
"width": 953, "height": 26,
"view": {"stroke": "#444444"},
"encoding": {
 "x": {"field": "d", "type": "temporal", "scale": {"domain": [{"year": 2011, "month": 8, "date": 18, "utc": true}, {"year": 2017, "month": 11, "date": 22, "utc": true}]}, "axis": null},
 "y": {"field": "v", "type": "quantitative", "scale": {"domain": [-500, 800], "nice": false, "zero": false}, "axis": null}
},
"layer": [
 {"data": {"name": "mc", "format": {"parse": {"d": "date"}}}, "transform": [{"window": [{"op": "lead", "field": "v", "as": "v2"}, {"op": "lead", "field": "d", "as": "d2"}], "sort": [{"field": "d", "order": "ascending"}]}, {"filter": "isValid(datum.v2)"}], "mark": {"type": "rule", "strokeWidth": 1.2}, "encoding": {"x2": {"field": "d2"}, "y2": {"field": "v2"}, "color": {"condition": {"test": "datum.v2 >= datum.v", "value": "#3d8ee0"}, "value": "#ee4433"}}},
 {"data": {"values": [{"d": "2011-08-23", "v": 580}]}, "layer": [
   {"mark": {"type": "text", "text": "MACD_ IBEX MACD:", "dx": 0, "color": "#4a8fd8"}},
   {"mark": {"type": "text", "text": "-24,9782", "dx": 78.5, "color": "#333333"}},
   {"mark": {"type": "text", "text": "MediaEXP:", "dx": 120.1, "color": "#4a8fd8"}},
   {"mark": {"type": "text", "text": "-32,3962 Band_MACD: 0,0000", "dx": 166.3, "color": "#333333"}},
   {"mark": {"type": "text", "text": "F: 6.074,0434", "dx": 291.1, "color": "#ee3333"}}
 ]},
 {"data": {"values": [{"d": "2017-12-11", "d2": "2018-02-07", "v": -250, "v2": 300}]}, "mark": {"type": "rect", "color": "#2f8cf0"}, "encoding": {"x2": {"field": "d2"}, "y2": {"field": "v2"}}},
 {"data": {"values": [{"d": "2018-01-09", "v": 25, "t": "-24,98"}]}, "mark": {"type": "text", "align": "center", "baseline": "middle", "font": "Liberation Sans", "fontSize": 8.5, "color": "#ffffff"}, "encoding": {"text": {"field": "t"}}},
 {"data": {"values": [{"d": "2018-02-05", "v": 620, "t": "_ □ ×"}]}, "mark": {"type": "text", "align": "center", "baseline": "middle", "font": "DejaVu Sans", "fontSize": 7, "color": "#666666"}, "encoding": {"text": {"field": "t"}}}
]
},
{
"width": 953, "height": 23,
"view": {"stroke": "#444444"},
"encoding": {
 "x": {"field": "d", "type": "temporal", "scale": {"domain": [{"year": 2011, "month": 8, "date": 18, "utc": true}, {"year": 2017, "month": 11, "date": 22, "utc": true}]}, "axis": {"orient": "bottom", "format": "%Y", "tickCount": {"interval": "year", "step": 1}, "labelAlign": "left", "labelBaseline": "top", "labelPadding": -4, "labelOffset": 0, "tickSize": 6, "tickColor": "#444444", "labelColor": "#444444", "labelFont": "Liberation Sans", "labelFontSize": 8, "labelOverlap": false, "labelFlush": false, "domain": false, "grid": false, "title": null}},
 "y": {"field": "v", "type": "quantitative", "scale": {"domain": [-74, 294], "nice": false, "zero": false}, "axis": null}
},
"layer": [
 {"data": {"values": [{"d": "2011-08-25", "d2": "2017-10-18", "v": 70}, {"d": "2011-08-25", "d2": "2017-10-18", "v": 30}]}, "mark": {"type": "rule", "color": "#555555", "strokeWidth": 1}, "encoding": {"x2": {"field": "d2"}}},
 {"data": {"name": "rs"}, "mark": {"type": "line", "color": "#111111", "strokeWidth": 1}},
 {"data": {"values": [{"d": "2011-08-23", "v": 198}]}, "layer": [
   {"mark": {"type": "text", "text": "RSI_ IBEX RSI: 49,6014 UpperBand: 70,0000 LowerBand: 30,0000", "dx": 0, "color": "#333333"}},
   {"mark": {"type": "text", "text": "F: 1.720,0000", "dx": 281.8, "color": "#ee3333"}}
 ]},
 {"data": {"values": [{"d": "2017-12-11", "d2": "2018-01-26", "v": 102, "v2": 246}]}, "mark": {"type": "rect", "color": "#e03c3c"}, "encoding": {"x2": {"field": "d2"}, "y2": {"field": "v2"}}},
 {"data": {"values": [{"d": "2018-01-03", "v": 174, "t": "49,6"}]}, "mark": {"type": "text", "align": "center", "baseline": "middle", "font": "Liberation Sans", "fontSize": 8.5, "color": "#ffffff"}, "encoding": {"text": {"field": "t"}}},
 {"data": {"values": [{"d": "2018-02-12", "v": 262, "t": "_ □ ×"}]}, "mark": {"type": "text", "align": "center", "baseline": "middle", "font": "DejaVu Sans", "fontSize": 6.5, "color": "#666666"}, "encoding": {"text": {"field": "t"}}}
]
}
]
}
